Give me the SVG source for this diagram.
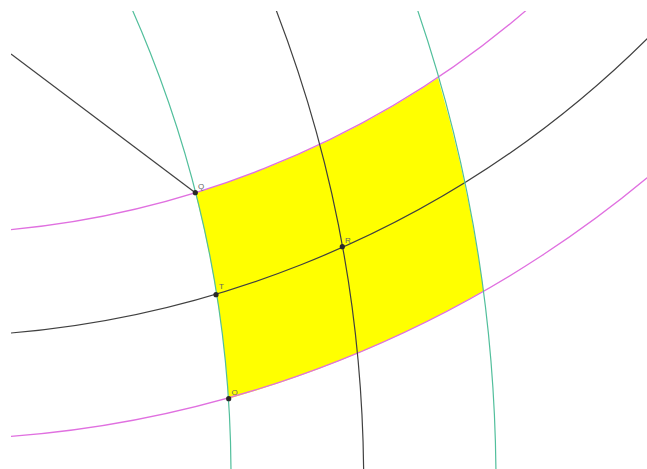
<svg xmlns="http://www.w3.org/2000/svg" width="647" height="469" viewBox="0 0 647 469">
<style>
.pk{fill:none;stroke:#e070e0;stroke-width:1.3}
.gr{fill:none;stroke:#52bf9c;stroke-width:1.2}
.bk{fill:none;stroke:#404040;stroke-width:1.2}
.pt{fill:#2a2a2a}
.lb{font-family:"Liberation Sans",Arial,sans-serif;font-size:8px;fill:#666}
</style>
<defs>
<clipPath id="clip"><rect x="11" y="11" width="636" height="458"/></clipPath>
</defs>
<rect width="647" height="469" fill="#fff"/>
<g id="region">
<path d="M195.3,192.7 A925.7,925.7 0 0 0 438,78 A1470,1470 0 0 1 483.5,291 A1131.8,1131.8 0 0 1 228.7,398.7 A1150,1150 0 0 0 195.3,192.7 Z" fill="#ffff00" stroke="none"/>
</g>
<g id="connectors" clip-path="url(#clip)">
<circle class="pk" cx="-77" cy="-692" r="925.7"/>
<circle class="pk" cx="-77" cy="-692" r="1131.8"/>
<circle class="bk" cx="-77" cy="-692" r="1028.7"/>
<circle class="gr" cx="-919" cy="476" r="1150"/>
<circle class="bk" cx="-957" cy="483" r="1320.7"/>
<circle class="gr" cx="-974" cy="484" r="1470"/>
<line class="bk" x1="11" y1="54" x2="195.3" y2="192.7"/>
</g>
<g id="Q"><circle class="pt" cx="195.3" cy="192.7" r="2.6"/><text class="lb" x="198" y="188.5">Q</text></g>
<g id="R"><circle class="pt" cx="342.3" cy="246.7" r="2.6"/><text class="lb" x="345" y="242.5">R</text></g>
<g id="T"><circle class="pt" cx="216" cy="294.7" r="2.6"/><text class="lb" x="219" y="289">T</text></g>
<g id="O"><circle class="pt" cx="228.7" cy="398.7" r="2.6"/><text class="lb" x="231.5" y="395">O</text></g>
</svg>
